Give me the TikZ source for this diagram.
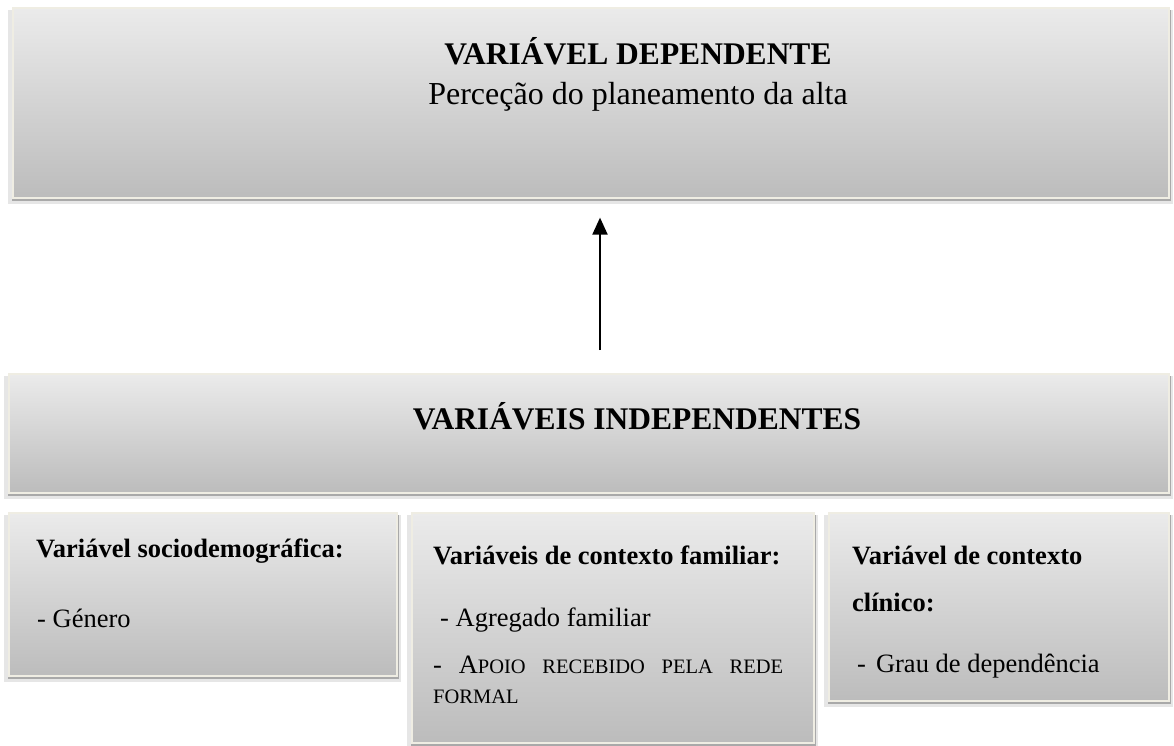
\documentclass[tikz,border=0pt]{standalone}
\usepackage{fontspec}
\setmainfont{Liberation Serif}
\usetikzlibrary{arrows.meta}
\definecolor{boxtop}{HTML}{EBEBEB}
\definecolor{boxbot}{HTML}{BCBCBC}
\definecolor{rim}{HTML}{EFEDE3}
\definecolor{shadedark}{HTML}{A9A9A9}
\definecolor{shadelight}{HTML}{E6E6E6}
\newcommand{\bigtxt}{\fontsize{31.5}{38}\selectfont}
\newcommand{\boxtxt}{\fontsize{26.5}{31}\selectfont}
\newcommand{\fsc}[1]{{\fontsize{20.5}{24}\selectfont #1}}
\tikzset{
  panel/.style={rectangle, draw=rim, line width=1.6pt, top color=boxtop, bottom color=boxbot, inner sep=0pt, anchor=north west},
  label/.style={inner sep=0pt, anchor=base west, font=\boxtxt},
  title/.style={inner sep=0pt, anchor=base, font=\bigtxt},
  link/.style={line width=2pt, -{Triangle[width=15pt,length=17pt]}}
}
% shadow + panel
\newcommand{\mypanel}[5]{% name, x1, y1, x2, y2
  \fill[shadelight] (#2-4,#3+3) rectangle (#4+5,#5+7);
  \fill[shadedark] (#2,#3+3) rectangle (#4+3,#5+4);
  \node[panel, minimum width=#4-#2, minimum height=#5-#3] (#1) at (#2,#3) {};
}
\begin{document}
\begin{tikzpicture}[x=1pt,y=-1pt]
\useasboundingbox[fill=white] (0,0) rectangle (1174,745);
\mypanel{dep}{12}{7}{1168}{197}
\mypanel{ind}{8}{373}{1168}{492}
\mypanel{soc}{8}{512}{396}{675}
\mypanel{fam}{411}{512}{813}{742}
\mypanel{cli}{828}{512}{1168}{700}

\node[title, font=\bigtxt\bfseries] (depT) at (638,64) {VARIÁVEL DEPENDENTE};
\node[title, font=\fontsize{32}{38}\selectfont] (depS) at (638,104) {Perceção do planeamento da alta};
\node[title, font=\bigtxt\bfseries] (indT) at (637,429) {VARIÁVEIS INDEPENDENTES};

\node[label, font=\boxtxt\bfseries] (socT) at (36,557) {Variável sociodemográfica:};
\node[label] (soc1) at (37,627) {- Género};

\node[label, font=\boxtxt\bfseries] (famT) at (433,564) {Variáveis de contexto familiar:};
\node[label] (fam1) at (440,626) {- Agregado familiar};
\node[label] (fam2) at (433,673) {\makebox[350pt][s]{-\hfill A\fsc{POIO}\hfill \fsc{RECEBIDO}\hfill \fsc{PELA}\hfill \fsc{REDE}}};
\node[label] (fam3) at (433,703) {\fsc{FORMAL}};

\node[label, font=\boxtxt\bfseries] (cliT) at (852,564) {Variável de contexto};
\node[label, font=\boxtxt\bfseries] (cliT2) at (852,611) {clínico:};
\node[label] (cli1) at (857,672) {-\hspace{10pt}Grau de dependência};

\coordinate (ax) at (600,300);
\draw[link, shorten <=23pt, shorten >=19pt] (ax |- ind.north) -- (ax |- dep.south);
\end{tikzpicture}
\end{document}
